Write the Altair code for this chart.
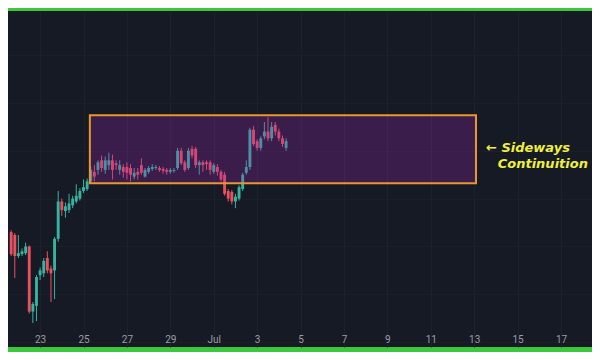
import altair as alt
import pandas as pd

# 4-hour candles, first one at this time
start = "2023-06-21T16:00:00"
opens  = [165,162,140,142,143,150, 82, 88,120,122,138,127,125,158,197,187,188,193,197,200,
          208,210,218,228,230,240,230,235,240,237,230,233,233,232,223,228,235,223,228,231,
          232,232,231,230,228,229,232,250,238,232,252,252,235,238,238,238,228,233,228,225,
          208,207,197,200,210,227,233,272,260,253,265,270,263,277,270,263,253]
highs  = [167,164,162,148,154,151, 92,120,128,138,145,130,160,208,200,196,205,203,215,211,
          220,221,233,235,240,245,244,248,246,240,240,236,238,236,232,232,242,232,234,236,
          235,234,233,232,232,232,253,253,240,253,255,254,240,240,240,240,237,236,230,228,
          210,209,205,214,227,240,274,276,262,265,280,285,280,280,273,266,263]
lows   = [140,117,138,140,141, 80, 70, 72,115,118,122, 92, 95,155,182,180,185,190,195,198,
          206,208,216,218,225,228,226,230,220,230,225,222,220,218,220,220,225,222,226,229,
          230,228,226,225,226,227,230,235,228,230,242,232,225,228,230,225,226,224,218,203,
          197,194,190,198,208,225,230,255,250,250,262,260,260,266,260,254,250]
closes = [142,140,143,145,150, 82, 90,118,125,135,125,122,158,197,188,192,195,200,203,208,
          212,218,230,223,238,232,240,240,230,235,235,228,227,225,227,225,227,230,232,233,
          233,230,229,228,230,230,250,237,230,250,245,235,238,235,236,230,235,228,220,205,
          200,197,202,212,225,233,272,257,253,263,270,263,275,270,263,257,260]

# consolidation box
box_start = ["2023-06-25T07:00:00"]
box_end = ["2023-07-13T02:00:00"]
box_low = [216]
box_high = [287]

# annotation
note_text = ["\u2190 Sideways", "Continuition"]
note_time = ["2023-07-13T13:00:00", "2023-07-14T02:00:00"]
note_price = [252.5, 236]

# x tick labels (days)
tick_days = [(6, 23), (6, 25), (6, 27), (6, 29), (7, 1), (7, 3), (7, 5), (7, 7),
             (7, 9), (7, 11), (7, 13), (7, 15), (7, 17)]

times = pd.date_range(start, periods=len(opens), freq="4h")
df = pd.DataFrame({
    "t": times.strftime("%Y-%m-%dT%H:%M:%S"),
    "open": opens, "high": highs, "low": lows, "close": closes,
})
df["dir"] = ["up" if c >= o else "down" for o, c in zip(opens, closes)]

box_df = pd.DataFrame({"t": box_start, "t2": box_end, "lo": box_low, "hi": box_high})
note_df = pd.DataFrame({"t": note_time, "p": note_price, "txt": note_text})

xscale = alt.Scale(domain=[alt.DateTime(year=2023, month=6, date=21, hours=12, minutes=30),
                           alt.DateTime(year=2023, month=7, date=18, hours=10, minutes=15)])
yscale = alt.Scale(domain=[45, 396], nice=False, zero=False)

xaxis = alt.Axis(
    values=[alt.DateTime(year=2023, month=m, date=d) for m, d in tick_days],
    labelExpr="date(datum.value) == 1 ? timeFormat(datum.value, '%b') : timeFormat(datum.value, '%-d')",
    grid=True, gridColor="#1d212d", gridWidth=1, domain=False, ticks=False,
    offset=-13, labelPadding=0, labelColor="#9a9da6", labelFontSize=10,
    labelFont="Roboto", title=None, labelOverlap=False,
)
yaxis = alt.Axis(labels=False, ticks=False, domain=False, title=None, grid=True,
                 gridColor="#1b1f2a", tickCount=6)

color = alt.Color("dir:N", scale=alt.Scale(domain=["up", "down"], range=["#36b3a1", "#e8525f"]),
                  legend=None)

base = alt.Chart(df)
wicks = base.mark_rule(strokeWidth=1).encode(
    x=alt.X("t:T", scale=xscale, axis=xaxis),
    y=alt.Y("low:Q", scale=yscale, axis=yaxis),
    y2="high:Q",
    color=color,
)
bodies = base.mark_rule(strokeWidth=2.9, strokeCap="butt").encode(
    x=alt.X("t:T", scale=xscale),
    y=alt.Y("open:Q", scale=yscale),
    y2="close:Q",
    color=color,
)
box = alt.Chart(box_df).mark_rect(fill="#9c27b0", fillOpacity=0.27, stroke="#e8982e",
                                  strokeWidth=2).encode(
    x=alt.X("t:T", scale=xscale), x2="t2:T",
    y=alt.Y("lo:Q", scale=yscale), y2="hi:Q",
)
notes = alt.Chart(note_df).mark_text(
    align="left", baseline="middle", font="DejaVu Sans", fontWeight="bold",
    fontStyle="italic", fontSize=13, color="#f0f03c",
).encode(
    x=alt.X("t:T", scale=xscale),
    y=alt.Y("p:Q", scale=yscale),
    text="txt:N",
)

chart = alt.layer(wicks, bodies, box, notes).properties(
    width=584, height=344,
    autosize=alt.AutoSizeParams(type="fit", contains="padding"),
    background="#3cc83c",
    padding={"top": 3, "bottom": 5, "left": 0, "right": 0},
).configure_view(fill="#161a25", strokeWidth=0)

chart.save("out.html", embed_options={"renderer": "svg", "actions": False})
